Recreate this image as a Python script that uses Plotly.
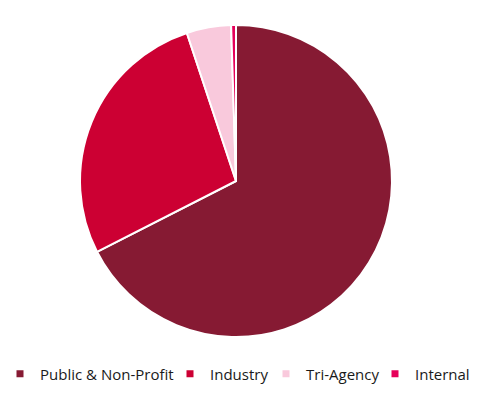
import plotly.graph_objects as go

categories = ["Public & Non-Profit", "Industry", "Tri-Agency", "Internal"]
shares = [67.5, 27.4, 4.6, 0.5]
colors = ["#861A33", "#CC0033", "#F9C9DC", "#E6005A"]
legend_left_px = [0, 170, 266, 375]

fig = go.Figure()
fig.add_trace(go.Pie(
    labels=categories, values=shares, sort=False, direction="clockwise",
    rotation=0, textinfo="none", hoverinfo="label+percent",
    marker=dict(colors=colors, line=dict(color="white", width=2)),
    showlegend=False,
))
legend_names = ["legend", "legend2", "legend3", "legend4"]
for name, c, lg in zip(categories, colors, legend_names):
    fig.add_trace(go.Scatter(
        x=[None], y=[None], mode="markers", name=name, legend=lg,
        marker=dict(symbol="square", size=7, color=c),
        showlegend=True,
    ))

W, H = 480, 397
layout_legends = {}
for lg, px in zip(legend_names, legend_left_px):
    layout_legends[lg] = dict(
        orientation="h", xref="container", yref="container",
        x=px / W, xanchor="left", y=1 - 374 / H, yanchor="middle",
        font=dict(size=15, color="#1a1a1a"), itemclick=False, itemdoubleclick=False,
        bgcolor="rgba(0,0,0,0)",
    )

fig.update_layout(
    width=W, height=H,
    margin=dict(l=0, r=8, t=25, b=60, autoexpand=False),
    paper_bgcolor="white", plot_bgcolor="white",
    xaxis=dict(visible=False), yaxis=dict(visible=False),
    font=dict(family="Open Sans", size=15, color="#1a1a1a"),
    **layout_legends,
)
fig.write_html("out.html", config={"displayModeBar": False},
               post_script="document.body.style.margin='0';")
